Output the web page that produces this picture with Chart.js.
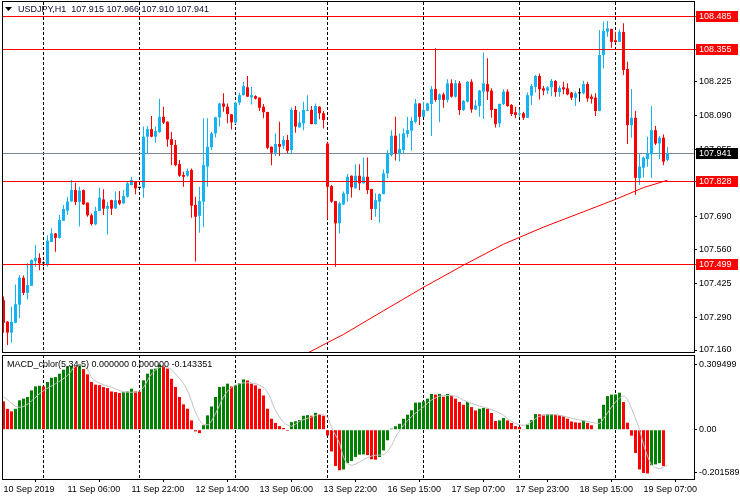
<!DOCTYPE html>
<html>
<head>
<meta charset="utf-8">
<script src="https://cdn.jsdelivr.net/npm/chart.js@4.4.0/dist/chart.umd.min.js"></script>
<style>
  html, body { margin: 0; padding: 0; background: #fff; }
  #wrap { position: relative; width: 740px; height: 500px; overflow: hidden; }
  canvas { position: absolute; left: 0; }
  #main { top: 0; }
  #macd { top: 354px; }
</style>
</head>
<body>
<div id="wrap">
  <canvas id="main" width="740" height="354"></canvas>
  <canvas id="macd" width="740" height="146"></canvas>
</div>
<script>
// USDJPY H1, one entry per bar, first bar = 10 Sep 14:00, last = 19 Sep 13:00
var opens = [
  107.358,107.272,107.229,107.268,107.340,107.447,107.387,107.415,107.514,107.526,
  107.504,107.497,107.589,107.623,107.605,107.673,107.713,107.750,107.795,107.748,
  107.795,107.745,107.695,107.659,107.712,107.758,107.721,107.755,107.722,107.755,
  107.742,107.769,107.815,107.828,107.804,107.804,108.007,108.037,108.007,108.025,
  108.086,108.066,107.997,107.974,107.898,107.855,107.852,107.875,107.736,107.693,
  107.749,107.888,107.965,108.020,108.084,108.139,108.126,108.096,108.063,108.142,
  108.172,108.203,108.163,108.168,108.162,108.126,108.105,107.967,107.943,107.978,
  107.971,107.994,107.954,108.113,108.044,108.060,108.110,108.113,108.057,108.126,
  108.100,107.980,107.811,107.751,107.663,107.738,107.779,107.852,107.802,107.852,
  107.822,107.848,107.799,107.720,107.749,107.779,107.861,107.934,108.011,107.941,
  107.954,108.018,108.031,108.066,108.139,108.086,108.110,108.137,108.196,108.153,
  108.175,108.153,108.219,108.166,108.219,108.113,108.146,108.225,108.115,108.129,
  108.186,108.216,108.190,108.117,108.060,108.137,108.186,108.133,108.104,108.096,
  108.100,108.082,108.170,108.205,108.248,108.199,108.190,108.203,108.228,108.184,
  108.203,108.199,108.182,108.162,108.179,108.179,108.216,108.166,108.162,108.109,
  108.331,108.424,108.435,108.390,108.384,108.423,108.276,108.053,108.082,107.842,
  107.884,107.918,107.937,108.033,107.980,108.003,107.915
];
var highs = [
  107.372,107.275,107.332,107.420,107.458,107.456,107.504,107.519,107.577,107.544,
  107.511,107.616,107.643,107.625,107.696,107.736,107.769,107.835,107.824,107.808,
  107.797,107.746,107.702,107.729,107.804,107.798,107.749,107.757,107.789,107.791,
  107.795,107.828,107.848,107.830,107.806,108.047,108.049,108.089,108.047,108.158,
  108.126,108.068,108.027,107.994,107.914,107.868,107.881,107.881,107.769,107.808,
  108.080,108.080,108.027,108.086,108.142,108.179,108.139,108.097,108.146,108.182,
  108.225,108.248,108.205,108.172,108.163,108.137,108.106,107.968,108.020,108.066,
  108.010,108.014,108.123,108.129,108.106,108.146,108.172,108.129,108.139,108.128,
  108.109,107.987,107.815,107.752,107.749,107.789,107.859,107.853,107.897,107.898,
  107.924,107.924,107.800,107.782,107.782,107.877,107.954,108.033,108.086,108.020,
  108.040,108.086,108.086,108.157,108.140,108.146,108.142,108.208,108.358,108.179,
  108.182,108.235,108.235,108.232,108.228,108.153,108.228,108.235,108.153,108.192,
  108.341,108.318,108.199,108.118,108.139,108.195,108.195,108.137,108.126,108.115,
  108.106,108.182,108.216,108.252,108.258,108.208,108.208,108.236,108.232,108.209,
  108.225,108.219,108.184,108.186,108.199,108.229,108.225,108.176,108.179,108.431,
  108.464,108.466,108.436,108.424,108.433,108.457,108.305,108.196,108.109,107.941,
  107.928,108.007,108.129,108.049,108.010,108.016,107.966
];
var lows = [
  107.229,107.180,107.189,107.266,107.286,107.378,107.361,107.414,107.491,107.477,
  107.493,107.491,107.589,107.550,107.603,107.672,107.696,107.749,107.736,107.650,
  107.737,107.689,107.654,107.655,107.711,107.696,107.619,107.696,107.721,107.736,
  107.741,107.766,107.814,107.778,107.802,107.765,107.938,108.005,107.983,108.023,
  108.057,107.967,107.894,107.890,107.848,107.808,107.848,107.685,107.511,107.626,
  107.647,107.808,107.954,108.004,108.047,108.106,108.060,108.036,108.057,108.133,
  108.171,108.165,108.135,108.155,108.109,108.080,107.957,107.894,107.930,107.930,
  107.958,107.941,107.938,108.023,108.043,108.033,108.109,108.056,108.055,108.076,
  108.040,107.679,107.745,107.491,107.623,107.736,107.749,107.766,107.801,107.795,
  107.821,107.779,107.676,107.689,107.665,107.778,107.842,107.928,107.912,107.908,
  107.938,108.004,107.951,108.060,108.053,108.085,108.109,108.010,108.146,108.064,
  108.122,108.143,108.163,108.162,108.093,108.109,108.143,108.102,108.113,108.086,
  108.077,108.153,108.082,108.043,108.044,108.133,108.126,108.089,108.080,108.086,
  108.073,108.081,108.133,108.182,108.155,108.172,108.176,108.168,108.166,108.166,
  108.176,108.172,108.153,108.129,108.146,108.176,108.146,108.139,108.089,108.108,
  108.278,108.404,108.360,108.380,108.382,108.252,107.978,108.003,107.775,107.815,
  107.845,107.888,107.844,107.974,107.918,107.894,107.910
];
var closes = [
  107.268,107.229,107.272,107.342,107.447,107.387,107.418,107.517,107.526,107.504,
  107.504,107.594,107.623,107.605,107.676,107.720,107.750,107.795,107.748,107.792,
  107.738,107.695,107.660,107.712,107.765,107.721,107.732,107.721,107.755,107.741,
  107.771,107.822,107.835,107.802,107.804,108.007,108.037,108.007,108.029,108.086,
  108.063,107.996,107.974,107.894,107.852,107.848,107.871,107.733,107.689,107.751,
  107.894,107.967,108.020,108.084,108.139,108.126,108.097,108.064,108.142,108.172,
  108.208,108.166,108.172,108.158,108.122,108.104,107.963,107.943,107.978,107.967,
  107.994,107.951,108.113,108.047,108.063,108.113,108.113,108.057,108.129,108.100,
  108.073,107.808,107.749,107.663,107.742,107.782,107.848,107.806,107.852,107.822,
  107.848,107.795,107.720,107.755,107.779,107.861,107.938,108.011,107.941,107.958,
  108.020,108.033,108.070,108.139,108.086,108.113,108.139,108.196,108.153,108.175,
  108.153,108.219,108.166,108.219,108.113,108.149,108.225,108.115,108.131,108.190,
  108.219,108.186,108.113,108.057,108.137,108.186,108.129,108.097,108.093,108.100,
  108.082,108.172,108.208,108.248,108.195,108.190,108.203,108.228,108.184,108.200,
  108.195,108.175,108.162,108.179,108.179,108.216,108.159,108.157,108.109,108.331,
  108.427,108.437,108.384,108.383,108.423,108.272,108.053,108.082,107.844,107.888,
  107.924,107.941,108.033,107.980,108.003,107.908,107.941
];

// red moving average, read at a few bars
var maBars = [76, 85, 95, 105, 115, 125, 135, 145, 153, 160, 166];
var maValues = [107.148, 107.222, 107.316, 107.409, 107.497, 107.580, 107.648, 107.709, 107.758, 107.805, 107.834];

// MACD_color(5,34,5) histogram, one per bar (current bar empty)
var macdHist = [
  0.134,0.099,0.087,0.099,0.139,0.147,0.155,0.186,0.205,0.208,
  0.205,0.226,0.246,0.249,0.265,0.284,0.300,0.303,0.301,0.309,
  0.287,0.262,0.226,0.213,0.211,0.202,0.197,0.181,0.178,0.174,
  0.177,0.181,0.194,0.181,0.180,0.234,0.265,0.286,0.289,0.308,
  0.303,0.289,0.241,0.202,0.155,0.120,0.099,0.044,-0.008,-0.016,
  0.021,0.068,0.110,0.155,0.202,0.204,0.218,0.205,0.210,0.221,
  0.238,0.233,0.218,0.210,0.194,0.162,0.099,0.052,0.032,0.017,
  0.008,-0.005,0.036,0.040,0.046,0.066,0.069,0.066,0.080,0.073,
  0.066,-0.027,-0.103,-0.172,-0.192,-0.188,-0.158,-0.148,-0.129,-0.118,
  -0.117,-0.120,-0.140,-0.142,-0.129,-0.098,-0.050,0.005,0.016,0.028,
  0.052,0.071,0.092,0.128,0.129,0.134,0.147,0.169,0.166,0.169,
  0.156,0.169,0.162,0.147,0.131,0.118,0.131,0.107,0.091,0.099,
  0.103,0.099,0.079,0.041,0.044,0.055,0.044,0.032,0.017,0.013,
  0.003,0.024,0.046,0.074,0.073,0.071,0.073,0.074,0.071,0.068,
  0.063,0.052,0.039,0.035,0.033,0.044,0.032,0.021,-0.003,0.052,
  0.118,0.159,0.166,0.167,0.175,0.131,0.033,-0.028,-0.110,-0.188,
  -0.205,-0.207,-0.168,-0.164,-0.158,-0.172,null
];
// signal line (gray), read at a few bars
var sigBars = [0,4,10,16,18,19,21,22,24,27,30,33,35,37,40,41,43,46,48,50,51,53,55,57,61,63,66,68,70,72,74,77,79,81,82,84,85,87,89,91,93,95,97,98,100,102,105,107,110,113,115,119,122,125,127,130,134,137,139,142,146,149,150,152,154,155,156,157,159,160,161,162,163,164,166];
var sigValues = [0.156,0.106,0.185,0.257,0.300,0.303,0.287,0.248,0.220,0.201,0.180,0.177,0.201,0.264,0.299,0.296,0.264,0.185,0.083,0.025,0.024,0.076,0.155,0.200,0.222,0.218,0.178,0.091,0.036,0.017,0.040,0.060,0.072,0.060,0.010,-0.065,-0.130,-0.168,-0.153,-0.132,-0.121,-0.118,-0.075,-0.035,0.021,0.062,0.108,0.140,0.162,0.159,0.139,0.112,0.096,0.068,0.039,0.021,0.063,0.071,0.069,0.054,0.039,0.030,0.052,0.107,0.150,0.159,0.142,0.100,0.000,-0.070,-0.125,-0.165,-0.180,-0.184,-0.169];

var timeLabels = ['10 Sep 2019','11 Sep 06:00','11 Sep 22:00','12 Sep 14:00','13 Sep 06:00','13 Sep 22:00','16 Sep 15:00','17 Sep 07:00','17 Sep 23:00','18 Sep 15:00','19 Sep 07:00'];
var timeLabelBars = [0,16,32,48,64,80,96,112,128,144,160];
var daySeparators = [10,34,58,81,105,129,153];

// plain price ticks (the ones under the coloured boxes are left out)
var priceTicks = [107.160,107.290,107.425,107.560,107.690,107.955,108.090,108.225];
var redLevels = [108.485,108.355,107.828,107.499];
var bidPrice = 107.941;
var macdTicks = [-0.201589, 0, 0.309499];
var macdTickText = ['-0.201589', '0.00', '0.309499'];

var headerText = 'USDJPY,H1  107.915 107.966 107.910 107.941';
var macdText = 'MACD_color(5,34,5) 0.000000 0.000000 -0.143351';

// ---------------------------------------------------------------
var UP = '#16b3f2', DOWN = '#ff0000';
var FAMILY = '"Liberation Sans", Arial, sans-serif';
var FONT = '9px ' + FAMILY;
Chart.defaults.font.family = FAMILY;
Chart.defaults.font.size = 9;
Chart.defaults.color = '#000';

var candleColors = opens.map(function (o, i) {
  if (closes[i] > o) return UP;
  if (closes[i] < o) return DOWN;
  return '#000';
});
var bodies = opens.map(function (o, i) { return { x: i, y: [o, closes[i]] }; });
var wicks = lows.map(function (l, i) { return { x: i, y: [l, highs[i]] }; });

var histColors = macdHist.map(function (v, i) {
  return (i > 0 && v > macdHist[i - 1]) ? '#008000' : '#ff0000';
});

// same horizontal mapping for both panels: 4 px per bar
var X_MIN = -0.375, X_MAX = 172.625;

function noPad(s) { s.paddingTop = 0; s.paddingBottom = 0; s.paddingLeft = 0; s.paddingRight = 0; }

function drawSeparators(chart) {
  var ctx = chart.ctx, a = chart.chartArea, x = chart.scales.x;
  ctx.save();
  ctx.lineWidth = 1;
  ctx.strokeStyle = '#000';
  ctx.setLineDash([3, 2]);
  daySeparators.forEach(function (i) {
    var px = Math.floor(x.getPixelForValue(i)) + 0.5;
    ctx.beginPath(); ctx.moveTo(px, a.top); ctx.lineTo(px, a.bottom); ctx.stroke();
  });
  ctx.restore();
}

function priceBox(ctx, a, py, fill, text) {
  var row = Math.floor(py);
  ctx.fillStyle = fill;
  ctx.fillRect(a.right + 2, row - 5, 42, 11);
  ctx.fillStyle = '#fff';
  ctx.fillText(text, a.right + 5, row + 0.5);
}

var mainOverlay = {
  id: 'mainOverlay',
  beforeDatasetsDraw: function (chart) {
    var ctx = chart.ctx, a = chart.chartArea, y = chart.scales.y;
    drawSeparators(chart);
    ctx.save();
    ctx.fillStyle = '#778899';
    ctx.fillRect(a.left, Math.floor(y.getPixelForValue(bidPrice)), a.right - a.left, 1);
    ctx.restore();
  },
  afterDraw: function (chart) {
    var ctx = chart.ctx, a = chart.chartArea, y = chart.scales.y;
    ctx.save();
    ctx.font = FONT;
    ctx.textBaseline = 'middle';
    ctx.textAlign = 'left';
    // horizontal levels with their price boxes
    redLevels.forEach(function (p) {
      var py = y.getPixelForValue(p);
      ctx.fillStyle = '#ff0000';
      ctx.fillRect(a.left, Math.floor(py), a.right - a.left + 2, 1);
      priceBox(ctx, a, py, '#ff0000', p.toFixed(3));
    });
    priceBox(ctx, a, y.getPixelForValue(bidPrice), '#000', bidPrice.toFixed(3));
    // frame
    ctx.lineWidth = 1;
    ctx.strokeStyle = '#000';
    ctx.strokeRect(2.5, 1.5, a.right - 2, a.bottom - 1);
    // header
    ctx.fillStyle = '#000';
    ctx.beginPath(); ctx.moveTo(5, 7); ctx.lineTo(12, 7); ctx.lineTo(8.5, 11); ctx.closePath(); ctx.fill();
    ctx.fillStyle = '#0a0a30';
    ctx.fillText(headerText, 18, 9.5);
    ctx.restore();
  }
};

var macdOverlay = {
  id: 'macdOverlay',
  beforeDatasetsDraw: function (chart) { drawSeparators(chart); },
  afterDraw: function (chart) {
    var ctx = chart.ctx, a = chart.chartArea;
    ctx.save();
    ctx.lineWidth = 1;
    ctx.strokeStyle = '#000';
    ctx.strokeRect(2.5, 1.5, a.right - 2, a.bottom - 1);
    ctx.font = FONT;
    ctx.fillStyle = '#000';
    ctx.textBaseline = 'middle';
    ctx.fillText(macdText, 7, 10.5);
    ctx.restore();
  }
};

new Chart(document.getElementById('main'), {
  type: 'bar',
  data: {
    datasets: [
      {
        type: 'line',
        data: maBars.map(function (b, k) { return { x: b, y: maValues[k] }; }),
        borderColor: '#ff0000', borderWidth: 1, pointRadius: 0, tension: 0, order: -1
      },
      { data: bodies, backgroundColor: candleColors, barThickness: 3, minBarLength: 1, grouped: false, inflateAmount: 0, order: 0 },
      { data: wicks, backgroundColor: candleColors, barThickness: 1, grouped: false, inflateAmount: 0, order: 1 }
    ]
  },
  options: {
    responsive: false,
    animation: false,
    devicePixelRatio: 1,
    events: [],
    layout: { padding: { left: 2, top: 2, right: 0, bottom: 2 } },
    plugins: { legend: { display: false }, tooltip: { enabled: false } },
    scales: {
      x: { type: 'linear', display: false, offset: false, min: X_MIN, max: X_MAX },
      y: {
        position: 'right', min: 107.1521, max: 108.5418,
        afterFit: function (s) { s.width = 46; noPad(s); },
        afterBuildTicks: function (s) { s.ticks = priceTicks.map(function (v) { return { value: v }; }); },
        ticks: { padding: 2, callback: function (v) { return v.toFixed(3); } },
        grid: { drawOnChartArea: false, tickLength: 3, color: '#000' },
        border: { display: false }
      }
    }
  },
  plugins: [mainOverlay]
});

new Chart(document.getElementById('macd'), {
  type: 'bar',
  data: {
    datasets: [
      {
        type: 'line',
        data: sigBars.map(function (b, k) { return { x: b, y: sigValues[k] }; }),
        borderColor: '#c0c0c0', borderWidth: 1, pointRadius: 0, cubicInterpolationMode: 'monotone', order: -1
      },
      {
        data: macdHist.map(function (v, i) { return { x: i, y: v }; }),
        backgroundColor: histColors, barThickness: 3, grouped: false, inflateAmount: 0, order: 0
      }
    ]
  },
  options: {
    responsive: false,
    animation: false,
    devicePixelRatio: 1,
    events: [],
    layout: { padding: { left: 2, top: 1, right: 0, bottom: 0 } },
    plugins: { legend: { display: false }, tooltip: { enabled: false } },
    scales: {
      x: {
        type: 'linear', offset: false, min: X_MIN, max: X_MAX,
        afterFit: function (s) { s.height = 21; noPad(s); },
        afterBuildTicks: function (s) { s.ticks = timeLabelBars.map(function (v) { return { value: v }; }); },
        ticks: {
          align: 'start', padding: 2, autoSkip: false, maxRotation: 0,
          callback: function (v) { var k = timeLabelBars.indexOf(v); return k >= 0 ? timeLabels[k] : ''; }
        },
        grid: { drawOnChartArea: false, tickLength: 3, color: '#000' },
        border: { display: false }
      },
      y: {
        position: 'right', min: -0.2333, max: 0.3536,
        afterFit: function (s) { s.width = 46; noPad(s); },
        afterBuildTicks: function (s) { s.ticks = macdTicks.map(function (v) { return { value: v }; }); },
        ticks: { padding: 2, callback: function (v) { var k = macdTicks.indexOf(v); return k >= 0 ? macdTickText[k] : ''; } },
        grid: { drawOnChartArea: false, tickLength: 3, color: '#000' },
        border: { display: false }
      }
    }
  },
  plugins: [macdOverlay]
});
</script>
</body>
</html>
